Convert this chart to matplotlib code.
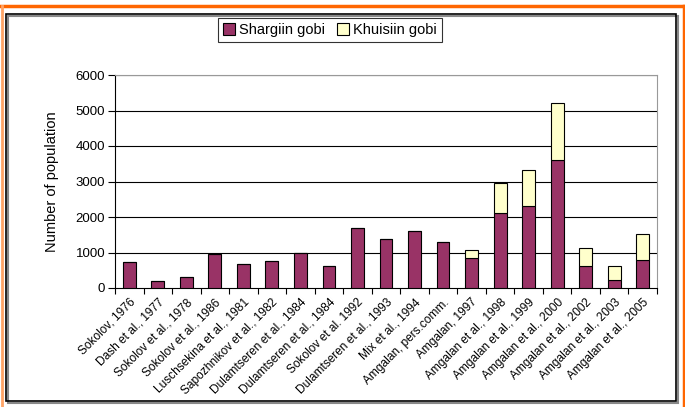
import numpy as np
import matplotlib
matplotlib.use("Agg")
import matplotlib.pyplot as plt
from matplotlib.patches import Rectangle
from matplotlib.lines import Line2D

plt.rcParams["font.family"] = ["Liberation Sans", "DejaVu Sans"]

sources = [
    "Sokolov, 1976", "Dash et al., 1977", "Sokolov et al., 1978",
    "Sokolov et al., 1986", "Luschsekina et al., 1981", "Sapozhnikov et al., 1982",
    "Dulamtseren et al., 1984", "Dulamtseren et al., 1984", "Sokolov et al. 1992",
    "Dulamtseren et al., 1993", "Mix et al., 1994", "Amgalan, pers.comm.",
    "Amgalan, 1997", "Amgalan et al., 1998", "Amgalan et al., 1999",
    "Amgalan et al., 2000", "Amgalan et al., 2002", "Amgalan et al., 2003",
    "Amgalan et al., 2005",
]
shargiin = [720, 200, 310, 950, 690, 750, 1000, 620, 1700, 1390,
            1600, 1290, 850, 2110, 2320, 3610, 610, 235, 780]
khuisiin = [0, 0, 0, 0, 0, 0, 0, 0, 0, 0,
            0, 0, 210, 850, 990, 1590, 510, 375, 735]

W, H = 685, 407
fig = plt.figure(figsize=(W / 100, H / 100), dpi=100)


def fx(px):
    return px / W


def fy(py):
    return 1 - py / H


# orange page frame (top, left, right)
fig.lines.append(Line2D([fx(0), fx(685)], [fy(6), fy(6)], transform=fig.transFigure,
                        color="#ff6600", linewidth=2.5))
fig.lines.append(Line2D([fx(2), fx(2)], [fy(6), fy(407)], transform=fig.transFigure,
                        color="#ffa466", linewidth=2))
fig.lines.append(Line2D([fx(683.5), fx(683.5)], [fy(6), fy(407)], transform=fig.transFigure,
                        color="#ff6600", linewidth=2.5))

# chart frame with shadow
fig.patches.append(Rectangle((fx(8), fy(403)), fx(670), 1 - fy(387), transform=fig.transFigure,
                             fill=False, edgecolor="#888888", linewidth=1.5))
fig.patches.append(Rectangle((fx(6), fy(401)), fx(670), 1 - fy(387), transform=fig.transFigure,
                             fill=False, edgecolor="black", linewidth=1.2))

ax = fig.add_axes([fx(115), fy(288), fx(542), fy(75) - fy(288)])
x = np.arange(len(sources))
w = 0.45
ax.bar(x, shargiin, w, color="#993366", edgecolor="black", linewidth=0.8,
       label="Shargiin gobi", zorder=3)
ax.bar(x, khuisiin, w, bottom=shargiin, color="#ffffcc", edgecolor="black",
       linewidth=0.8, label="Khuisiin gobi", zorder=3)

ax.set_xlim(-0.5, len(sources) - 0.5)
ax.set_ylim(0, 6000)
ax.set_yticks(range(0, 6001, 1000))
ax.tick_params(axis="y", labelsize=9.5, direction="out", length=5, width=0.8, pad=2)
for y in range(1000, 6001, 1000):
    ax.axhline(y, color="black", linewidth=0.8, zorder=1)

ax.set_xticks(x)
ax.set_xticklabels(sources, rotation=45, ha="right", rotation_mode="anchor",
                   fontsize=8.6)
ax.tick_params(axis="x", length=0, pad=6)
ax.set_xticks(np.arange(-0.5, len(sources)), minor=True)
ax.tick_params(axis="x", which="minor", length=4, width=0.8, direction="out")

ax.spines["top"].set_color("#999999")
ax.spines["right"].set_color("#999999")
ax.spines["left"].set_linewidth(0.8)
ax.spines["bottom"].set_linewidth(0.8)

ax.set_ylabel("Number of population", fontsize=10.5, labelpad=12)

leg = fig.legend(loc="center", bbox_to_anchor=(fx(330), fy(30)), ncol=2,
                 fontsize=10.5, frameon=True, fancybox=False, edgecolor="black",
                 handlelength=0.8, handleheight=0.8, handletextpad=0.3,
                 columnspacing=0.8, borderpad=0.35)
leg.get_frame().set_linewidth(0.8)

fig.savefig("out.png", dpi=100)
